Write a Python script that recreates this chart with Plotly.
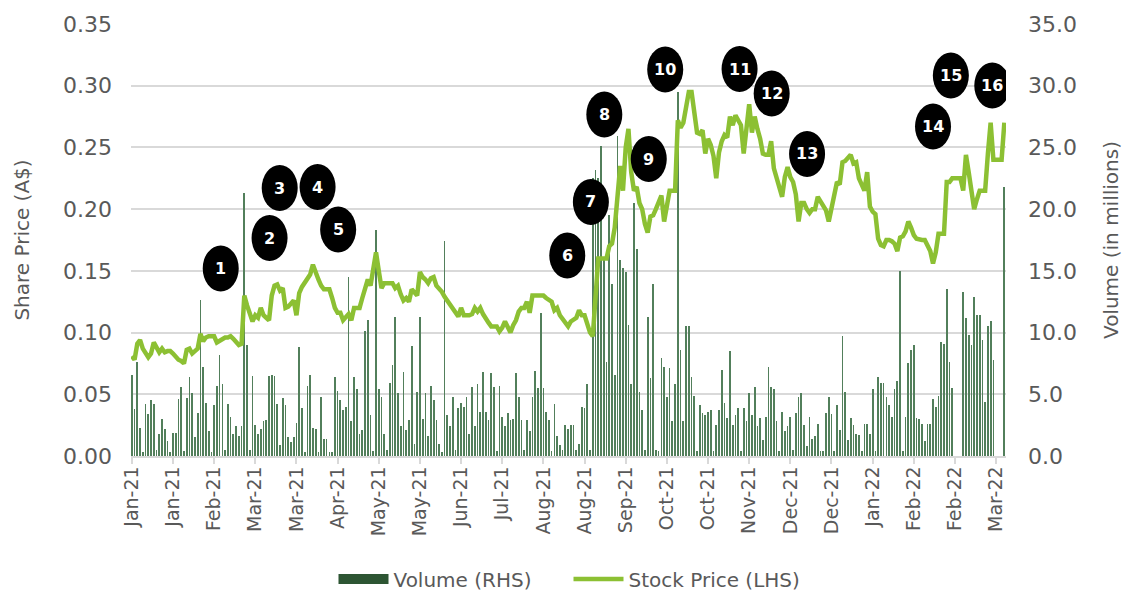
import plotly.graph_objects as go
import pandas as pd

# ---------------- data ----------------
dates = pd.bdate_range("2021-01-04", periods=319)
categories = [d.strftime("%Y-%m-%d") for d in dates]
tick_idx = list(range(0, 319, 15))
tick_vals = [categories[i] for i in tick_idx]
tick_labels = [dates[i].strftime("%b-%y") for i in tick_idx]

price = [
    0.081, 0.078, 0.091, 0.094, 0.087, 0.084, 0.080, 0.083, 0.092, 0.088,
    0.084, 0.087, 0.084, 0.085, 0.085, 0.083, 0.080, 0.078, 0.077, 0.075,
    0.086, 0.087, 0.083, 0.085, 0.087, 0.099, 0.093, 0.096, 0.097, 0.097,
    0.097, 0.092, 0.093, 0.095, 0.096, 0.096, 0.097, 0.095, 0.093, 0.090,
    0.091, 0.130, 0.122, 0.115, 0.109, 0.114, 0.112, 0.120, 0.114, 0.112,
    0.110, 0.130, 0.138, 0.139, 0.134, 0.136, 0.120, 0.121, 0.124, 0.126,
    0.114, 0.132, 0.137, 0.140, 0.143, 0.147, 0.155, 0.148, 0.143, 0.138,
    0.135, 0.135, 0.135, 0.128, 0.120, 0.116, 0.116, 0.110, 0.113, 0.115,
    0.110, 0.120, 0.120, 0.120, 0.128, 0.135, 0.143, 0.138, 0.150, 0.165,
    0.150, 0.136, 0.140, 0.140, 0.140, 0.140, 0.136, 0.138, 0.131, 0.126,
    0.128, 0.125, 0.135, 0.132, 0.130, 0.149, 0.145, 0.143, 0.140, 0.144,
    0.145, 0.138, 0.136, 0.133, 0.129, 0.126, 0.122, 0.119, 0.116, 0.113,
    0.120, 0.114, 0.114, 0.114, 0.115, 0.120, 0.117, 0.120, 0.115, 0.111,
    0.108, 0.105, 0.105, 0.105, 0.101, 0.104, 0.109, 0.104, 0.100, 0.106,
    0.110, 0.117, 0.120, 0.120, 0.125, 0.116, 0.130, 0.130, 0.130, 0.130,
    0.130, 0.128, 0.126, 0.125, 0.118, 0.120, 0.114, 0.111, 0.109, 0.105,
    0.109, 0.111, 0.112, 0.118, 0.114, 0.114, 0.108, 0.100, 0.097, 0.125,
    0.160, 0.160, 0.160, 0.160, 0.170, 0.172, 0.185, 0.211, 0.235, 0.215,
    0.250, 0.265, 0.230, 0.215, 0.218, 0.205, 0.200, 0.188, 0.181, 0.194,
    0.195, 0.200, 0.205, 0.211, 0.190, 0.205, 0.215, 0.215, 0.215, 0.272,
    0.266, 0.270, 0.285, 0.295, 0.295, 0.275, 0.262, 0.261, 0.264, 0.245,
    0.257, 0.252, 0.243, 0.225, 0.246, 0.255, 0.260, 0.258, 0.275, 0.268,
    0.276, 0.272, 0.268, 0.245, 0.265, 0.285, 0.262, 0.275, 0.265, 0.257,
    0.245, 0.244, 0.244, 0.255, 0.233, 0.225, 0.215, 0.210, 0.226, 0.234,
    0.226, 0.222, 0.212, 0.190, 0.205, 0.205, 0.200, 0.197, 0.200, 0.200,
    0.210, 0.206, 0.203, 0.199, 0.190, 0.200, 0.210, 0.222, 0.220, 0.238,
    0.239, 0.242, 0.244, 0.237, 0.238, 0.225, 0.220, 0.215, 0.230, 0.202,
    0.198, 0.196, 0.176, 0.171, 0.170, 0.175, 0.175, 0.174, 0.172, 0.166,
    0.177, 0.178, 0.182, 0.190, 0.185, 0.179, 0.176, 0.175, 0.175, 0.175,
    0.170, 0.166, 0.156, 0.165, 0.180, 0.180, 0.180, 0.222, 0.222, 0.225,
    0.225, 0.225, 0.225, 0.215, 0.244, 0.230, 0.212, 0.200, 0.208, 0.215,
    0.215, 0.215, 0.245, 0.270, 0.240, 0.240, 0.240, 0.240, 0.270,
]

volume = [
    6.6, 3.8, 7.6, 2.3, 0.3, 4.2, 3.4, 4.5, 4.2, 0.5,
    1.8, 3.0, 2.2, 1.2, 0.3, 1.9, 1.9, 4.6, 5.6, 0.4,
    4.7, 6.4, 5.1, 1.5, 3.5, 12.6, 7.2, 4.3, 2.0, 0.3,
    4.1, 5.7, 8.2, 5.8, 0.5, 4.2, 3.2, 1.8, 2.4, 1.6,
    2.4, 21.3, 9.0, 0.5, 6.5, 2.5, 1.8, 2.2, 2.8, 2.9,
    6.5, 6.6, 6.5, 4.2, 0.9, 4.7, 4.1, 1.5, 1.1, 1.5,
    2.7, 8.8, 3.9, 0.3, 5.7, 6.6, 2.3, 2.2, 0.3, 4.8,
    1.4, 1.4, 0.3, 0.3, 6.4, 5.3, 4.5, 3.7, 4.0, 14.5,
    2.8, 6.4, 5.4, 1.8, 2.1, 10.1, 11.0, 3.3, 0.4, 18.3,
    5.4, 4.8, 1.8, 0.5, 5.9, 7.4, 11.3, 5.1, 2.4, 6.8,
    2.1, 2.9, 8.9, 1.0, 5.2, 11.3, 3.0, 5.1, 1.6, 5.7,
    4.5, 2.9, 1.0, 0.3, 17.4, 3.3, 2.4, 4.8, 0.5, 3.9,
    4.3, 4.0, 4.8, 1.8, 5.6, 2.4, 5.8, 3.6, 6.8, 3.6,
    2.9, 6.7, 5.6, 0.4, 5.7, 3.2, 2.4, 3.5, 2.9, 3.0,
    6.7, 4.8, 2.9, 0.5, 2.9, 2.0, 4.8, 6.9, 5.5, 11.6,
    5.5, 3.6, 2.9, 0.4, 4.2, 1.6, 0.9, 0.5, 2.5, 2.2,
    2.5, 2.5, 0.5, 1.0, 4.0, 3.9, 5.8, 0.5, 22.5, 23.2,
    22.5, 25.1, 15.9, 7.6, 19.5, 13.9, 6.6, 25.9, 15.9, 15.2,
    14.9, 10.6, 5.8, 20.5, 16.8, 5.2, 3.7, 0.5, 11.3, 6.3,
    13.9, 0.5, 0.4, 7.9, 7.2, 4.8, 7.1, 2.8, 5.8, 29.5,
    8.6, 2.8, 10.5, 10.5, 6.4, 4.9, 0.4, 4.1, 3.5, 3.3,
    3.6, 3.7, 0.4, 2.5, 3.7, 7.0, 4.3, 3.1, 8.5, 2.5,
    3.3, 3.9, 0.4, 3.9, 2.8, 5.1, 3.3, 5.6, 2.4, 3.1,
    1.3, 3.2, 7.2, 5.6, 5.4, 2.8, 0.4, 3.6, 2.0, 2.4,
    3.2, 0.5, 3.5, 4.8, 5.1, 2.5, 0.8, 3.2, 1.4, 1.6,
    2.6, 0.4, 0.4, 3.5, 4.8, 3.4, 0.4, 4.1, 2.1, 9.7,
    5.2, 1.3, 3.1, 2.5, 1.8, 1.7, 0.4, 2.6, 2.6, 1.8,
    5.4, 0.4, 6.4, 5.9, 5.9, 4.8, 4.1, 3.2, 5.4, 6.1,
    15.0, 0.4, 3.2, 7.5, 8.6, 9.0, 3.1, 3.0, 2.6, 1.2,
    2.6, 2.6, 4.6, 4.0, 4.9, 9.2, 9.1, 13.5, 7.6, 5.5,
    0.0, 0.0, 0.0, 13.3, 11.2, 9.8, 9.0, 12.9, 11.4, 11.4,
    9.4, 4.4, 10.5, 10.9, 7.8, 0.0, 0.0, 0.0, 21.8,
]

# numbered event markers (category index, share price level)
event_labels = [str(i) for i in range(1, 17)]
event_x = [32.4, 50.2, 53.9, 67.7, 75.2, 158.7, 167.3, 172.2,
           188.4, 194.4, 221.5, 233.2, 246.1, 292.0, 298.5, 313.6]
event_y = [0.152, 0.1766, 0.2171, 0.2179, 0.1835, 0.1624, 0.2058, 0.2767,
           0.2406, 0.3131, 0.3135, 0.2937, 0.2447, 0.2669, 0.3083, 0.3002]

# ---------------- styling ----------------
FONT = "DejaVu Sans"
GREY = "#595959"
GRID = "#d9d9d9"
BAR_COLOR = "#527f5b"
LEGEND_BAR = "#2d5533"
LINE_COLOR = "#8cc033"

# the page body has an 8px margin: the figure is sized to fill the rest of the window
FIG_W, FIG_H = 1122, 583

fig = go.Figure()

# legend proxy for volume (wide dark swatch)
fig.add_trace(go.Scatter(
    x=[None], y=[None], mode="lines", name="Volume (RHS)",
    line=dict(color=LEGEND_BAR, width=13), yaxis="y", hoverinfo="skip",
))
fig.add_trace(go.Bar(
    x=categories, y=volume, yaxis="y", name="Volume (RHS)",
    marker=dict(color=BAR_COLOR, line=dict(width=0)), width=0.27,
    showlegend=False,
))
fig.add_trace(go.Scatter(
    x=categories, y=price, yaxis="y2", mode="lines", name="Stock Price (LHS)",
    line=dict(color=LINE_COLOR, width=4.5),
))

shapes = []
annotations = []
for lab, ex, ey in zip(event_labels, event_x, event_y):
    shapes.append(dict(
        type="circle", xref="x", yref="y2",
        xsizemode="pixel", ysizemode="pixel",
        xanchor=ex, yanchor=ey, x0=-18, x1=18, y0=-23, y1=23,
        fillcolor="black", line=dict(width=0), layer="above",
    ))
    annotations.append(dict(
        x=ex, y=ey, xref="x", yref="y2", text=f"<b>{lab}</b>",
        showarrow=False, font=dict(family=FONT, size=16, color="white"),
    ))

fig.update_layout(
    width=FIG_W, height=FIG_H,
    margin=dict(l=123, r=124, t=16, b=135, autoexpand=False),
    paper_bgcolor="white", plot_bgcolor="white",
    font=dict(family=FONT, size=20, color=GREY),
    bargap=0,
    shapes=shapes, annotations=annotations,
    showlegend=True,
    legend=dict(
        orientation="h", x=0.5, xanchor="center", xref="paper",
        y=12 / FIG_H, yanchor="middle", yref="container",
        font=dict(family=FONT, size=20, color=GREY), itemwidth=50,
        entrywidth=170, traceorder="normal",
    ),
    xaxis=dict(
        type="category", range=[-0.3, 318.6], automargin=False,
        tickmode="array", tickvals=tick_vals, ticktext=tick_labels,
        tickangle=-90, ticks="outside", ticklen=6, tickcolor=GRID, tickwidth=1.5,
        showline=True, linecolor=GRID, linewidth=1.5, showgrid=False,
        tickfont=dict(family=FONT, size=19, color=GREY), ticklabelstandoff=-5,
    ),
    yaxis=dict(
        side="right", range=[0, 35], dtick=5, tickformat=".1f", automargin=False,
        showgrid=True, gridcolor=GRID, gridwidth=1.5, zeroline=False,
        title=dict(text="Volume (in millions)", standoff=28,
                   font=dict(family=FONT, size=20, color=GREY)),
        tickfont=dict(family=FONT, size=22, color=GREY),
        ticks="", ticklabelstandoff=21,
    ),
    yaxis2=dict(
        overlaying="y", side="left", range=[0, 0.35], dtick=0.05, tickformat=".2f",
        showgrid=False, zeroline=False, automargin=False,
        title=dict(text="Share Price (A$)", standoff=28,
                   font=dict(family=FONT, size=20, color=GREY)),
        tickfont=dict(family=FONT, size=22, color=GREY),
        ticks="", ticklabelstandoff=18,
    ),
)

fig.write_html("out.html")
